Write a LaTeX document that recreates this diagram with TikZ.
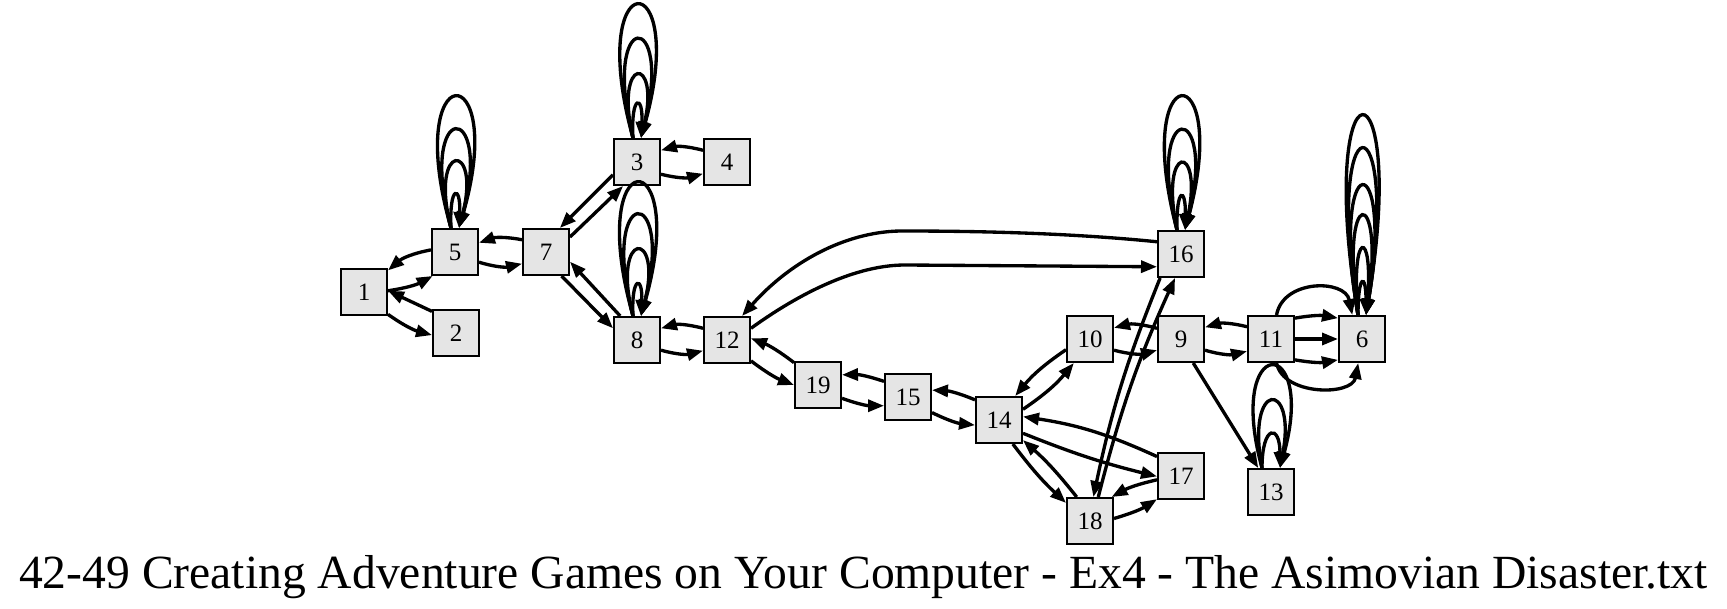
\documentclass[tikz,border=0pt]{standalone}
\usepackage{fontspec}
\setmainfont{Liberation Serif}
\usetikzlibrary{calc,arrows.meta}
\definecolor{nodegray}{RGB}{229,229,229}
\newcommand\selfloop[4]{% node, d, h, b
  \draw[edge] ($(#1.north)+(-#2,0)$) .. controls ($(#1.north)+({-#2-#4},{4*#3/3})$) and ($(#1.north)+({#2+#4},{4*#3/3})$) .. ($(#1.north)+(#2,0)$);}
\begin{document}
\begin{tikzpicture}[x=0.75pt,y=0.75pt,
  box/.style={draw, line width=1.6pt, fill=nodegray, minimum size=34.4pt, inner sep=0pt, font=\fontsize{18.75}{20}\selectfont},
  edge/.style={draw, line width=2.5pt, -{Triangle[length=12pt,width=9pt]}}]
\useasboundingbox (0,0) rectangle (1727,-609);
% nodes
\node[box] (n1) at (364,-292) {1};
\node[box] (n2) at (456,-333) {2};
\node[box] (n5) at (455,-252) {5};
\node[box] (n7) at (546,-252) {7};
\node[box] (n3) at (637,-162) {3};
\node[box] (n4) at (727,-162) {4};
\node[box] (n8) at (637,-340) {8};
\node[box] (n12) at (727,-340) {12};
\node[box] (n19) at (818,-385) {19};
\node[box] (n15) at (908,-397) {15};
\node[box] (n14) at (999,-420) {14};
\node[box] (n10) at (1090,-339) {10};
\node[box] (n9) at (1181,-339) {9};
\node[box] (n16) at (1181,-254) {16};
\node[box] (n18) at (1090,-521) {18};
\node[box] (n17) at (1181,-476) {17};
\node[box] (n11) at (1271,-339) {11};
\node[box] (n6) at (1362,-339) {6};
\node[box] (n13) at (1271,-492) {13};
% self loops
\selfloop{n5}{4}{130.5}{50}
\selfloop{n5}{4}{97.5}{35}
\selfloop{n5}{4}{65.5}{22.5}
\selfloop{n5}{4}{32.5}{2}
\selfloop{n3}{4}{132.5}{49}
\selfloop{n3}{4}{98}{33}
\selfloop{n3}{4}{62.5}{19.5}
\selfloop{n3}{4}{33}{2.5}
\selfloop{n8}{4}{132.5}{50}
\selfloop{n8}{4}{100.5}{35}
\selfloop{n8}{4}{65.5}{22.5}
\selfloop{n8}{4}{30.5}{2}
\selfloop{n16}{4}{132.5}{47}
\selfloop{n16}{4}{99}{33}
\selfloop{n16}{4}{66}{18.5}
\selfloop{n16}{4}{32.5}{1}
\selfloop{n6}{4}{198.5}{44}
\selfloop{n6}{4}{165.5}{36}
\selfloop{n6}{4}{128.5}{29}
\selfloop{n6}{4}{98.5}{19.5}
\selfloop{n6}{4}{65.5}{8}
\selfloop{n6}{4}{31.5}{0}
\selfloop{n13}{9}{101.5}{37.2}
\selfloop{n13}{9}{66.5}{16.8}
\selfloop{n13}{9}{33}{0}
% edges
\draw[edge] (n5.175) to[bend right=15] (n1.42);
\draw[edge] (n1.3) to[bend right=10] (n5.227);
\draw[edge] (n2.138) to (n1.3);
\draw[edge] (n1.-43) to[bend right=10] (n2.185);
\draw[edge] (n7.153) to[bend right=15] (n5.21);
\draw[edge] (n5.-23) to[bend right=15] (n7.206);
\draw[edge] (n7.32) to (n3.240);
\draw[edge] (n3.208) to (n7.60);
\draw[edge] (n4.154) to[bend right=15] (n3.26);
\draw[edge] (n3.-27) to[bend right=15] (n4.206);
\draw[edge] (n7.-57) to (n8.154);
\draw[edge] (n8.125) to (n7.-22);
\draw[edge] (n12.154) to[bend right=15] (n8.26);
\draw[edge] (n8.-23) to[bend right=15] (n12.204);
\draw[edge] (n16.153) .. controls (1060,-232) and (960,-231) .. (900,-231) .. controls (845,-232) and (790,-262) .. (n12.58);
\draw[edge] (n12.26) .. controls (790,-300) and (850,-265) .. (905,-265) -- (n16.208);
\draw[edge] (n12.-41) to[bend right=8] (n19.180);
\draw[edge] (n19.137) to[bend right=8] (n12.4);
\draw[edge] (n15.147) to[bend right=10] (n19.23);
\draw[edge] (n19.-29) to[bend right=10] (n15.200);
\draw[edge] (n14.140) to[bend right=10] (n15.16);
\draw[edge] (n15.-33) to[bend right=10] (n14.192);
\draw[edge] (n10.204) to[bend right=8] (n14.56);
\draw[edge] (n14.24) to[bend right=8] (n10.236);
\draw[edge] (n9.156) to[bend right=15] (n10.25);
\draw[edge] (n10.-25) to[bend right=15] (n9.205);
\draw[edge] (n17.141) to[bend right=8] (n14.8);
\draw[edge] (n14.-29) to[bend right=4] (n17.181);
\draw[edge] (n14.-60) to[bend right=5] (n18.143);
\draw[edge] (n18.119) to[bend right=5] (n14.-40);
\draw[edge] (n17.189) to[bend right=8] (n18.48);
\draw[edge] (n18.6) to[bend right=8] (n17.224);
\draw[edge] (n16.229) to[bend right=5] (n18.82);
\draw[edge] (n18.71) to[bend left=5] (n16.256);
\draw[edge] (n11.153) to[bend right=15] (n9.26);
\draw[edge] (n9.-25) to[bend right=15] (n11.207);
\draw[edge] (n9.-63) -- (n13.118);
\draw[edge] (n11.77) .. controls (1283,-279) and (1345,-279) .. (n6.112);
\draw[edge] (n11.41) to[bend left=10] (n6.139);
\draw[edge] (n11.east) -- (n6.west);
\draw[edge] (n11.-41) to[bend right=10] (n6.-139);
\draw[edge] (n11.-77) .. controls (1283,-396) and (1352,-396) .. (n6.-99);
% title
\node[anchor=base, font=\fontsize{35.7}{40}\selectfont] (title) at (863.5,-588) {42-49 Creating Adventure Games on Your Computer - Ex4 - The Asimovian Disaster.txt};
\end{tikzpicture}
\end{document}
